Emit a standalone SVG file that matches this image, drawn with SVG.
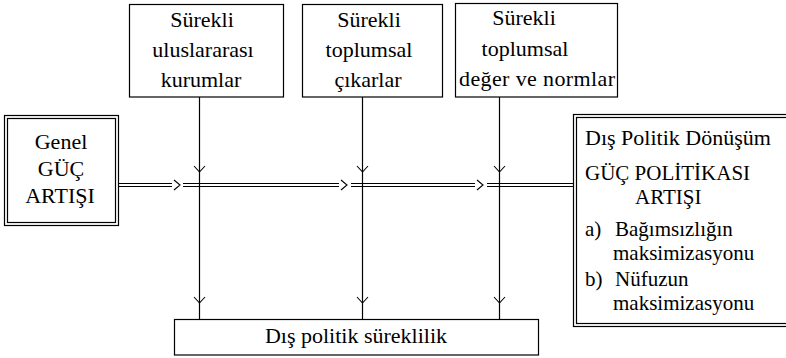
<svg xmlns="http://www.w3.org/2000/svg" width="786" height="358" viewBox="0 0 786 358">
<style>
.box{fill:#fff;stroke:#000;stroke-width:1.2}
.ln{fill:none;stroke:#000;stroke-width:1.2}
.ch{fill:none;stroke:#000;stroke-width:1.1}
.m{text-anchor:middle}
.t{font-family:'Liberation Serif','DejaVu Serif','Noto Serif',Tinos,'Times New Roman',serif;font-size:22px;fill:#000}
.s{font-size:21px}
</style>
<rect width="786" height="358" fill="#fff"/>
<g id="connectors">
  <path class="ln" d="M118 183.5H172M118 186.5H172M183 183.5H339M183 186.5H339M351 183.5H475M351 186.5H475M487 183.5H573.5M487 186.5H573.5"/>
  <path class="ch" d="M174 180L180 185L174 190M341 180L347 185L341 190M477 180L483 185L477 190"/>
  <path class="ln" d="M199.5 97V319M362.5 97V319M499.5 97V319"/>
  <path class="ch" d="M194 166L199.5 172L205 166M357 166L362.5 172L368 166M494 166L499.5 172L505 166"/>
  <path class="ch" d="M194 297L199.5 303L205 297M357 297L362.5 303L368 297M494 297L499.5 303L505 297"/>
</g>
<g class="t">
<g id="node-genel">
  <rect class="box" x="4.5" y="115.5" width="114" height="110"/>
  <rect class="box" x="7.5" y="118.5" width="108" height="104"/>
  <text class="m" x="61" y="149">Genel</text>
  <text class="m" x="61" y="176">GÜÇ</text>
  <text class="m" x="60" y="203">ARTIŞI</text>
</g>
<g id="node-kurumlar">
  <rect class="box" x="129.5" y="4.5" width="154" height="92.5"/>
  <text class="m" x="202" y="27">Sürekli</text>
  <text class="m" x="203" y="57">uluslararası</text>
  <text class="m" x="201" y="87">kurumlar</text>
</g>
<g id="node-cikarlar">
  <rect class="box" x="302.5" y="4.5" width="140" height="92.5"/>
  <text class="m" x="369" y="27">Sürekli</text>
  <text class="m" x="369" y="57">toplumsal</text>
  <text class="m" x="368" y="87">çıkarlar</text>
</g>
<g id="node-degerler">
  <rect class="box" x="455.5" y="3.5" width="162" height="93.5"/>
  <text class="m" x="524" y="25">Sürekli</text>
  <text class="m" x="525" y="56">toplumsal</text>
  <text class="m" x="537" y="86" textLength="156">değer ve normlar</text>
</g>
<g id="node-donusum">
  <rect class="box" x="573.5" y="114.5" width="230" height="212"/>
  <rect class="box" x="576.5" y="117.5" width="224" height="206"/>
  <text x="585" y="145">Dış Politik Dönüşüm</text>
  <text class="s" x="585" y="180">GÜÇ POLİTİKASI</text>
  <text class="s" x="635" y="204">ARTIŞI</text>
  <text class="s" x="585" y="236">a)</text>
  <text class="s" x="615" y="236">Bağımsızlığın</text>
  <text class="s" x="613" y="260">maksimizasyonu</text>
  <text class="s" x="585" y="286">b)</text>
  <text class="s" x="615" y="286">Nüfuzun</text>
  <text class="s" x="613" y="310">maksimizasyonu</text>
</g>
<g id="node-sureklilik">
  <rect class="box" x="174.5" y="319.5" width="364" height="35.5"/>
  <text class="m" x="356" y="343">Dış politik süreklilik</text>
</g>
</g>
</svg>
